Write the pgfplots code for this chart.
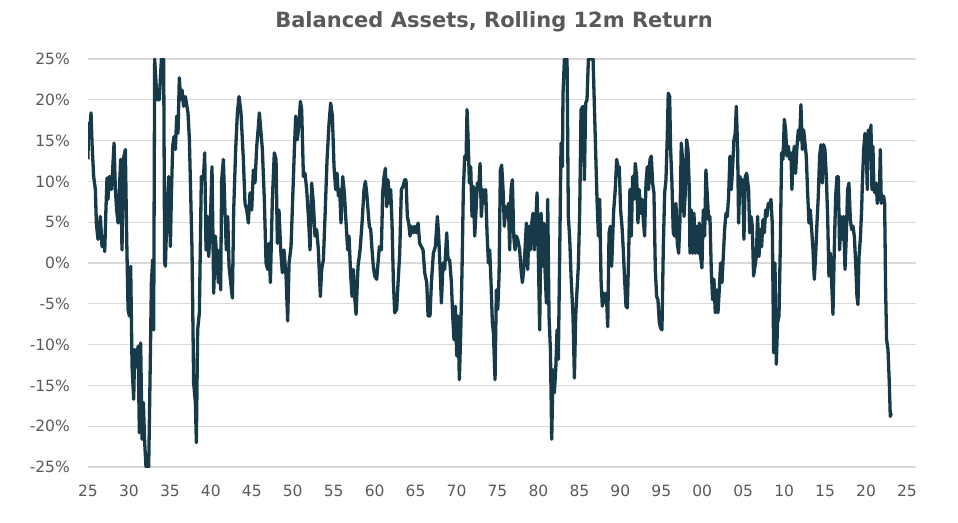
\documentclass[border=0pt]{standalone}
\usepackage{pgfplots}
\pgfplotsset{compat=1.18}
\usepackage{fontspec}
\setmainfont{DejaVu Sans}
\definecolor{linec}{RGB}{22,58,72}
\definecolor{gridc}{RGB}{217,217,217}
\definecolor{textc}{RGB}{89,89,89}
\begin{document}
\begin{tikzpicture}[x=1pt,y=1pt]
\useasboundingbox (0,0) rectangle (958,522);
\node[text=textc, font=\fontsize{21}{25}\selectfont\bfseries] at (494,500) {Balanced Assets, Rolling 12m Return};
\begin{axis}[at={(88pt,55pt)}, anchor=south west, scale only axis,
  width=828pt, height=408pt,
  xmin=1925, xmax=2026.1, ymin=-25, ymax=25,
  axis line style={draw=none}, major tick length=0pt,
  ymajorgrids, grid style={draw=gridc, line width=1.3pt},
  ytick={-25,-20,...,25},
  yticklabels={-25\%,-20\%,-15\%,-10\%,-5\%,0\%,5\%,10\%,15\%,20\%,25\%},
  xtick={1925,1930,...,2025},
  xticklabels={25,30,35,40,45,50,55,60,65,70,75,80,85,90,95,00,05,10,15,20,25},
  yticklabel style={anchor=east, inner sep=0pt, xshift=-18pt, text=textc, font=\fontsize{15.5}{18}\selectfont},
  xticklabel style={anchor=north, inner sep=0pt, yshift=-18pt, text=textc, font=\fontsize{15.5}{18}\selectfont},
]
\addplot[color=linec, line width=3.3pt, line join=round] coordinates {
(1925.00,12.7)(1925.05,17.1)(1925.17,15.5)(1925.37,18.4)(1925.49,14.7)(1925.69,10.6)(1925.90,9.0)(1926.02,4.9)(1926.22,2.9)(1926.51,5.7)(1926.71,2.0)(1926.92,3.3)(1927.04,1.4)(1927.20,6.9)(1927.32,10.4)(1927.44,7.8)(1927.61,10.6)(1927.85,9.0)(1928.01,11.4)(1928.18,14.7)(1928.34,9.0)(1928.50,6.5)(1928.67,4.9)(1928.83,9.0)(1928.99,12.7)(1929.15,1.6)(1929.32,12.7)(1929.56,13.9)(1929.72,3.3)(1929.89,-5.7)(1930.05,-6.5)(1930.21,-0.4)(1930.38,-12.7)(1930.58,-16.7)(1930.70,-10.6)(1930.90,-12.7)(1931.11,-10.2)(1931.27,-20.8)(1931.43,-9.8)(1931.60,-21.6)(1931.76,-17.1)(1931.92,-22.0)(1932.08,-25)(1932.41,-25)(1932.61,-11.8)(1932.74,-2.4)(1932.90,0.4)(1933.02,-8.2)(1933.14,25)(1933.43,20)(1933.71,20)(1933.96,25)(1934.24,25)(1934.36,0)(1934.45,-0.4)(1934.65,6.5)(1934.85,10.6)(1935.06,2.0)(1935.18,8.2)(1935.34,14.3)(1935.50,15.5)(1935.67,13.9)(1935.83,18.0)(1935.99,15.9)(1936.15,22.7)(1936.32,20)(1936.48,21.2)(1936.68,19.2)(1936.89,20.4)(1937.21,18.4)(1937.38,15.1)(1937.70,1.6)(1937.90,-14.7)(1938.11,-17.1)(1938.23,-22.0)(1938.39,-8.2)(1938.60,-6.1)(1938.84,10.6)(1939.09,10.2)(1939.25,13.5)(1939.41,1.6)(1939.57,5.7)(1939.74,0.8)(1939.94,4.9)(1940.14,11.8)(1940.35,-3.7)(1940.55,3.3)
(1940.71,0.8)(1940.92,-2.4)(1941.08,1.6)(1941.20,-3.3)(1941.32,10.2)(1941.53,12.7)(1941.73,6.1)(1941.89,1.6)(1942.06,5.7)(1942.22,-0.4)(1942.42,-2.4)(1942.63,-4.3)(1942.79,6.5)(1943.03,13.9)(1943.24,18.4)(1943.44,20.4)(1943.68,18.4)(1943.97,12.7)(1944.17,7.3)(1944.38,6.5)(1944.58,4.9)(1944.78,8.6)(1944.99,6.5)(1945.19,11.4)(1945.39,9.8)(1945.60,14.3)(1945.80,16.7)(1945.92,18.4)(1946.13,15.9)(1946.29,13.9)(1946.53,7.8)(1946.74,0)(1946.94,-0.8)(1947.10,2.4)(1947.27,-2.4)(1947.51,7.8)(1947.75,13.5)(1947.96,12.7)(1948.12,2.4)(1948.32,6.5)(1948.53,1.6)(1948.73,-1.2)(1948.93,1.6)(1949.18,-1.6)(1949.38,-7.1)(1949.55,0)(1949.79,2.0)(1949.99,7.8)(1950.20,13.9)(1950.36,18.0)(1950.56,15.1)(1950.77,17.1)(1950.93,19.8)(1951.09,18.8)(1951.30,10.6)(1951.50,11.0)(1951.70,9.0)(1951.91,5.7)(1952.11,1.6)(1952.31,9.8)(1952.52,7.3)(1952.72,3.3)(1952.92,4.1)(1953.13,1.6)(1953.37,-4.1)(1953.53,-0.8)(1953.74,0.4)(1953.94,5.7)(1954.19,12.7)(1954.43,17.1)(1954.63,19.6)(1954.84,18.0)(1955.04,11.8)(1955.24,9.0)(1955.41,11.0)(1955.57,8.2)(1955.73,9.0)(1955.89,4.9)(1956.10,10.6)(1956.30,8.6)(1956.51,4.9)(1956.71,1.6)
(1956.87,3.3)(1957.08,-1.6)(1957.24,-4.1)(1957.40,-0.8)(1957.56,-4.1)(1957.73,-6.3)(1957.97,-0.4)(1958.22,1.6)(1958.46,4.9)(1958.70,9.0)(1958.87,10.0)(1959.03,8.6)(1959.19,6.5)(1959.35,4.5)(1959.52,4.1)(1959.68,1.6)(1959.84,-0.4)(1960.01,-1.6)(1960.25,-2.0)(1960.41,0)(1960.58,2.0)(1960.82,1.6)(1960.98,8.6)(1961.15,10.6)(1961.31,11.6)(1961.47,6.9)(1961.63,10.2)(1961.80,7.3)(1961.96,9.0)(1962.12,4.9)(1962.29,-2.4)(1962.45,-6.1)(1962.69,-5.7)(1962.86,-2.4)(1963.06,1.2)(1963.26,9.0)(1963.47,9.4)(1963.67,10.2)(1963.83,10.2)(1963.99,5.7)(1964.16,4.9)(1964.32,3.3)(1964.48,4.5)(1964.73,3.7)(1964.89,4.5)(1965.09,3.7)(1965.30,4.9)(1965.50,2.4)(1965.70,2.0)(1965.91,1.6)(1966.11,-1.2)(1966.36,-2.4)(1966.52,-6.5)(1966.76,-6.5)(1966.93,-2.4)(1967.17,1.2)(1967.41,2.0)(1967.66,5.7)(1967.82,3.3)(1967.98,-0.4)(1968.15,-4.9)(1968.35,0)(1968.55,-0.8)(1968.80,3.7)(1968.96,0.4)(1969.16,0.4)(1969.37,-2.4)(1969.53,-6.5)(1969.69,-9.4)(1969.86,-5.3)(1970.02,-11.4)(1970.18,-6.5)(1970.34,-14.3)(1970.51,-8.6)(1970.67,-0.8)(1970.83,9.0)(1971.00,13.1)(1971.16,12.7)(1971.28,18.8)(1971.40,15.5)(1971.57,9.8)(1971.73,11.8)(1971.89,5.7)(1972.05,9.4)(1972.22,3.3)(1972.38,6.5)(1972.54,9.8)(1972.70,9.0)(1972.87,12.2)(1973.03,5.7)
(1973.23,9.0)(1973.40,7.3)(1973.56,9.0)(1973.72,3.7)(1973.89,0)(1974.05,1.6)(1974.21,-2.4)(1974.37,-7.3)(1974.50,-8.6)(1974.70,-14.3)(1974.86,-3.3)(1975.03,-5.7)(1975.19,-1.6)(1975.35,11.4)(1975.51,12.0)(1975.68,9.0)(1975.84,4.5)(1976.00,6.9)(1976.16,5.7)(1976.33,7.3)(1976.49,1.6)(1976.65,9.0)(1976.82,10.2)(1976.98,3.3)(1977.14,1.6)(1977.30,3.3)(1977.47,2.9)(1977.71,1.6)(1977.87,-0.8)(1978.04,-2.4)(1978.20,-0.8)(1978.36,1.6)(1978.53,4.9)(1978.69,-0.8)(1978.85,4.5)(1979.01,1.6)(1979.18,4.9)(1979.34,6.1)(1979.50,1.6)(1979.66,4.9)(1979.83,8.6)(1979.99,0.8)(1980.15,-8.2)(1980.32,6.1)(1980.48,-0.4)(1980.64,4.9)(1980.80,-0.8)(1980.97,-4.9)(1981.13,7.8)(1981.29,-6.5)(1981.46,-10.6)(1981.62,-21.6)(1981.78,-13.1)(1981.94,-15.9)(1982.11,-13.1)(1982.27,-8.2)(1982.43,-11.8)(1982.60,1.6)(1982.76,14.7)(1982.92,11.8)(1983.00,20.8)(1983.17,25)(1983.49,25)(1983.65,5.7)(1983.82,2.9)(1983.98,-1.6)(1984.22,-6.5)(1984.39,-14.1)(1984.55,-6.5)(1984.71,-3.3)(1984.87,-0.4)(1985.04,6.5)(1985.20,18.8)(1985.44,19.2)(1985.61,10.2)(1985.77,19.6)(1985.93,20)(1986.10,25)(1986.67,25)(1986.83,19.2)(1986.99,13.5)(1987.15,7.8)(1987.32,3.3)(1987.48,7.8)(1987.64,-2.0)(1987.80,-5.3)(1987.97,-3.7)(1988.13,-4.9)(1988.29,-3.7)(1988.46,-7.8)(1988.62,3.7)(1988.78,4.5)(1988.94,-0.4)(1989.19,6.5)
(1989.38,9.0)(1989.55,12.7)(1989.71,11.8)(1989.87,11.8)(1990.03,6.5)(1990.20,4.5)(1990.36,1.6)(1990.52,-2.0)(1990.69,-5.3)(1990.85,-5.5)(1991.01,0.8)(1991.17,9.0)(1991.34,3.3)(1991.50,10.6)(1991.66,7.8)(1991.82,12.2)(1991.99,10.6)(1992.15,4.9)(1992.31,9.0)(1992.48,6.1)(1992.64,7.8)(1992.80,5.3)(1992.96,3.3)(1993.13,9.8)(1993.29,11.8)(1993.45,9.0)(1993.62,12.7)(1993.78,13.1)(1993.94,9.8)(1994.10,8.6)(1994.27,-0.8)(1994.43,-4.1)(1994.59,-4.5)(1994.76,-7.3)(1994.92,-8.0)(1995.08,-8.2)(1995.24,1.6)(1995.41,8.6)(1995.57,10.2)(1995.73,15.5)(1995.85,20.8)(1996.02,20.4)(1996.14,13.9)(1996.30,9.8)(1996.46,3.7)(1996.63,3.3)(1996.79,7.3)(1996.95,2.4)(1997.12,1.2)(1997.28,5.3)(1997.44,14.7)(1997.60,12.7)(1997.77,5.7)(1997.93,8.6)(1998.09,15.1)(1998.26,13.9)(1998.42,9.0)(1998.50,1.2)(1998.66,6.5)(1998.83,1.2)(1998.99,6.1)(1999.15,1.2)(1999.31,4.5)(1999.48,1.2)(1999.64,4.9)(1999.80,0.8)(1999.96,-0.6)(2000.13,6.5)(2000.29,3.3)(2000.45,11.4)(2000.62,8.2)(2000.78,5.3)(2000.94,5.7)(2001.10,-0.8)(2001.27,-4.5)(2001.43,-2.0)(2001.59,-6.1)(2001.76,-3.3)(2001.92,-6.1)(2002.08,-3.3)(2002.24,0)(2002.41,-2.4)(2002.57,0.8)(2002.73,4.1)(2002.90,6.1)(2003.06,5.7)(2003.22,8.2)(2003.38,13.1)(2003.55,9.0)(2003.71,11.8)(2003.87,15.1)(2004.03,15.9)(2004.16,19.2)(2004.32,13.9)(2004.44,4.9)(2004.60,10.6)(2004.77,9.8)(2004.93,10.2)(2005.09,2.9)(2005.26,10.6)(2005.42,11.0)
(2005.66,9.0)(2005.79,3.7)(2005.95,5.7)(2006.11,4.5)(2006.27,-1.6)(2006.44,-0.4)(2006.60,0.8)(2006.76,5.7)(2006.93,0.8)(2007.09,4.1)(2007.25,2.0)(2007.41,5.3)(2007.58,3.7)(2007.74,6.5)(2007.90,5.7)(2008.06,7.3)(2008.23,6.9)(2008.39,7.8)(2008.55,4.9)(2008.72,-11.0)(2008.88,0)(2009.04,-12.4)(2009.20,-7.3)(2009.37,-6.5)(2009.53,2.0)(2009.69,13.5)(2009.86,12.7)(2010.02,17.6)(2010.18,16.3)(2010.34,13.1)(2010.51,14.3)(2010.67,12.7)(2010.83,13.5)(2010.95,9.0)(2011.08,12.7)(2011.24,14.3)(2011.40,11.0)(2011.57,14.3)(2011.73,16.3)(2011.89,15.1)(2012.05,19.4)(2012.22,13.9)(2012.38,16.3)(2012.54,14.7)(2012.70,13.1)(2012.87,8.6)(2013.03,4.9)(2013.19,6.5)(2013.36,4.1)(2013.52,1.6)(2013.68,-2.0)(2013.84,0.8)(2014.01,4.9)(2014.17,8.2)(2014.33,13.1)(2014.50,14.5)(2014.66,9.8)(2014.82,14.5)(2014.98,13.9)(2015.15,10.6)(2015.31,5.7)(2015.47,-1.6)(2015.64,1.2)(2015.80,-2.4)(2015.96,-6.3)(2016.12,1.6)(2016.29,8.2)(2016.45,10.6)(2016.61,10.6)(2016.77,1.6)(2016.94,5.7)(2017.10,2.9)(2017.26,5.7)(2017.43,-0.8)(2017.59,3.3)(2017.75,9.0)(2017.91,9.8)(2018.08,5.3)(2018.24,4.1)(2018.40,4.5)(2018.57,3.3)(2018.73,0)(2018.89,-4.1)(2019.01,-5.1)(2019.14,0.8)(2019.30,2.9)(2019.46,6.5)(2019.54,9.4)(2019.71,13.9)(2019.87,15.9)(2020.03,13.9)(2020.15,9.0)(2020.27,16.3)(2020.44,12.7)(2020.60,16.9)(2020.72,9.0)(2020.84,14.3)(2020.97,9.0)(2021.09,8.6)(2021.25,9.8)(2021.37,7.3)(2021.50,9.0)(2021.62,7.8)(2021.74,13.9)(2021.86,7.3)(2021.98,7.8)(2022.15,8.2)(2022.27,7.3)(2022.39,-3.3)(2022.51,-9.4)(2022.68,-10.6)(2022.84,-14.7)(2022.96,-18.8)(2023.08,-18.4)
};
\end{axis}
\end{tikzpicture}
\end{document}
